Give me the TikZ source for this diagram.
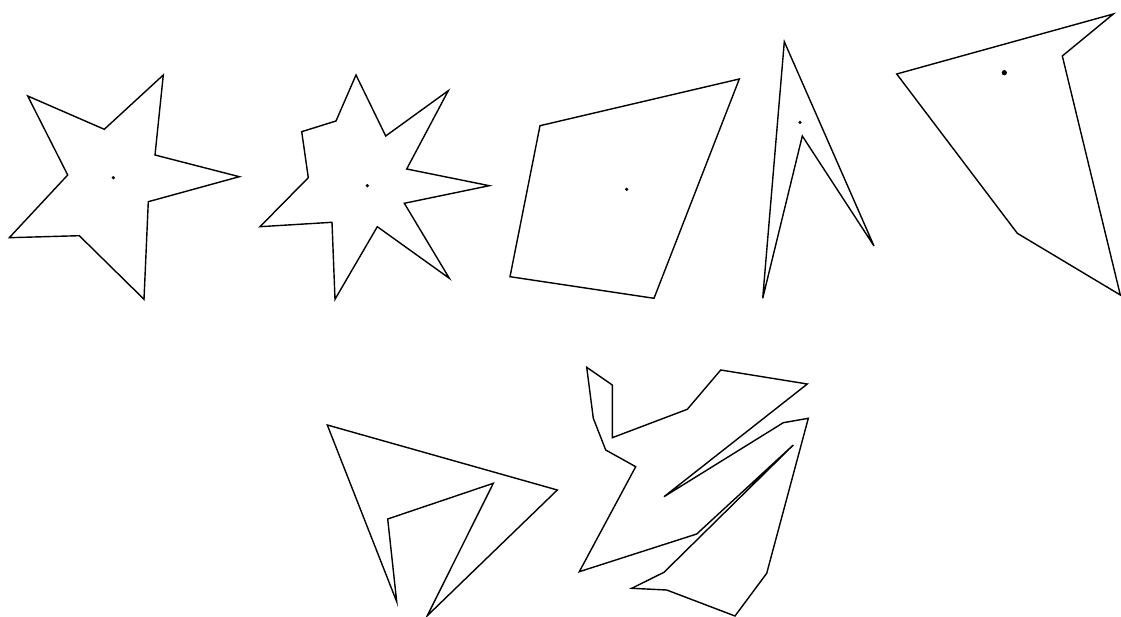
\documentclass[tikz,border=0pt]{standalone}
\usetikzlibrary{arrows,shapes,positioning,calc}

\begin{document}
\begin{tikzpicture}[x=0.02cm,y=-0.02cm,line join=miter]
\tikzset{poly/.style={draw,line width=0.8pt},cdot/.style={fill,circle,inner sep=0pt,minimum size=2pt}}
\useasboundingbox (0,0) rectangle (1121,617);

% five-pointed star
\draw[poly] (27.7,96) -- (104.3,129.3) -- (163.3,75) -- (155,155) -- (239.3,176.7) -- (148.3,201.7) -- (144,299.3) -- (79.3,235.7) -- (9.3,237.7) -- (67.7,175) -- cycle;
\node[cdot] (c1) at (113.3,177.7) {};

% seven-pointed star
\draw[poly] (356,75) -- (385.7,136) -- (448.3,90.7) -- (406.7,169) -- (489.3,185.7) -- (404.3,203.3) -- (449.3,278.3) -- (377.3,226.7) -- (335,299.3) -- (332,222.3) -- (260,226.7) -- (308.3,177.7) -- (301.7,131.7) -- (336,121) -- cycle;
\node[cdot] (c2) at (367.3,185.7) {};

% quadrilateral
\draw[poly] (540,125.7) -- (739.3,79) -- (654,298.3) -- (510,276.7) -- cycle;
\node[cdot] (c3) at (626.7,189.3) {};

% arrow head
\draw[poly] (784.3,41.7) -- (874,246) -- (802.3,136) -- (762.7,298.3) -- cycle;
\node[cdot] (c4) at (800,122.3) {};

% pennant
\draw[poly] (896.7,74) -- (1113.3,14) -- (1062.3,56) -- (1120.3,295) -- (1017.3,233.3) -- cycle;
\node[cdot,minimum size=3pt] (c5) at (1004.3,72.7) {};

% hook
\draw[poly] (327.3,425) -- (557.3,490) -- (427.3,615.7) -- (493.3,483.3) -- (387.7,519) -- (396.7,601.7) -- cycle;

% irregular
\draw[poly] (586.7,367.3) -- (612.3,385) -- (612.3,437.7) -- (687.3,409.3) -- (720.7,370) -- (807.3,384) -- (664,496.7) -- (783.3,422.7) -- (808.3,418.3) -- (766.7,573.3) -- (735,616) -- (666.7,590) -- (631.7,588.3) -- (664,572.3) -- (793.3,445) -- (696.7,534) -- (579.3,571.7) -- (635.7,466.7) -- (605.7,450) -- (593.3,418.3) -- cycle;
\end{tikzpicture}
\end{document}
